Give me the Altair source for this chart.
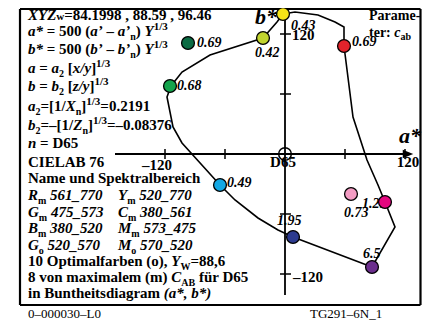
import altair as alt
import pandas as pd

# ---------------- data (CIELAB a*, b*) ----------------
sample_a = [-2, -22, 59, -97, -115, -65, 66, 100, 8, 87]
sample_b = [140, 116, 108, 111, 68, -31, -40, -48, -83, -113]
sample_lbl = ["0.43", "0.42", "0.69", "0.69", "0.68", "0.49", "0.73", "1.21", "1.95", "6.5"]
sample_col = ["#f7e417", "#c1d42f", "#e3232b", "#0b6b43", "#14a44c",
              "#12a8e4", "#f39cc3", "#e4077f", "#2c3a8f", "#6b2e8d"]

curve_a = [-2, 10, 33, 50, 59, 59, 68, 82, 93, 100, 110, 87, 8, -7, -27, -50, -65,
           -103, -112, -118, -114, -103, -75, -22, -8, -2]
curve_b = [140, 142, 139, 132, 127, 108, 37, -6, -31, -48, -73, -113, -83, -76, -64, -46, -31,
           11, 27, 57, 68, 82, 99, 116, 132, 140]

tick_vals = [-120, -60, 60, 120]

# ---------------- layout helpers ----------------
PX0, PY0 = 285, 154          # page position of the origin (D65)


def A(px):
    return px - PX0


def B(py):
    return PY0 - py


# label offsets (page px) from each circle centre: left start, baseline
lbl_dx = [8, -8, 8, 9, 7, 7, -7, -23, -16, -9]
lbl_dy = [16, 19, 0, 4, 4, 2, 23, 6, -12, -9]

BOLD_W = {' ': 250, '(': 333, ')': 333, '*': 500, ',': 250, '-': 333, '.': 250, '/': 278,
          '=': 570, '[': 333, ']': 333, '_': 500, '–': 500, '’': 333, ':': 333,
          'A': 722, 'B': 667, 'C': 722, 'D': 722, 'E': 667, 'I': 389, 'L': 667, 'N': 722,
          'O': 778, 'P': 611, 'S': 556, 'W': 1000, 'T': 667, 'G': 778,
          'a': 500, 'b': 556, 'c': 444, 'd': 556, 'e': 444, 'f': 333, 'g': 500, 'h': 556,
          'i': 278, 'k': 556, 'l': 278, 'm': 833, 'n': 556, 'o': 500, 'p': 556, 'r': 444,
          's': 389, 't': 333, 'u': 556, 'v': 500, 'w': 722, 'x': 500, 'y': 500, 'z': 444,
          'ü': 556}
ITAL_W = {' ': 250, '(': 333, ')': 333, '*': 500, ',': 250, '.': 250, '/': 278, '_': 500,
          '’': 333, 'A': 667, 'B': 667, 'C': 667, 'G': 722, 'M': 889, 'R': 667, 'X': 667,
          'Y': 611, 'Z': 611, 'a': 500, 'b': 500, 'n': 556, 'x': 500, 'y': 444, 'z': 389,
          'c': 444}

KINDS = {  # kind: (italic, size, dy)
    'B': (False, 15, 0), 'I': (True, 15, 0), 'sub': (False, 10, 4), 'sup': (False, 11, -6),
    'w': (False, 11, 0), 'b14': (False, 14, 0), 'i14': (True, 14, 0), 'sub14': (False, 10, 3),
}


def width(txt, italic, size):
    tab = ITAL_W if italic else BOLD_W
    return sum(tab.get(ch, 500) for ch in txt) * size / 1000.0


seg_rows = []


def row(x0, base, segs):
    x = x0
    for txt, kind in segs:
        it, size, dy = KINDS[kind]
        core = txt.lstrip(" ")
        lead = width(txt[:len(txt) - len(core)], it, size)
        core = core.rstrip(" ")
        if core:
            seg_rows.append(dict(a=A(x + lead), b=B(base + dy), t=core, fs=size, it=it))
        x += width(txt, it, size)


L = 28
row(L, 20, [("XYZ", 'I'), ("w", 'w'), ("=84.1998 , 88.59 , 96.46", 'B')])
row(L, 36, [("a*", 'I'), (" = 500 (", 'B'), ("a’", 'I'), (" – ", 'B'), ("a’", 'I'),
            ("n", 'sub'), (") ", 'B'), ("Y", 'I'), ("1/3", 'sup')])
row(L, 54, [("b*", 'I'), (" = 500 (", 'B'), ("b’", 'I'), (" – ", 'B'), ("b’", 'I'),
            ("n", 'sub'), (") ", 'B'), ("Y", 'I'), ("1/3", 'sup')])
row(L, 73, [("a", 'I'), (" = ", 'B'), ("a", 'I'), ("2", 'sub'), (" [", 'B'), ("x/y", 'I'),
            ("]", 'B'), ("1/3", 'sup')])
row(L, 91, [("b", 'I'), (" = ", 'B'), ("b", 'I'), ("2", 'sub'), (" [", 'B'), ("z/y", 'I'),
            ("]", 'B'), ("1/3", 'sup')])
row(L, 111, [("a", 'I'), ("2", 'sub'), ("=[1/", 'B'), ("X", 'I'), ("n", 'sub'), ("]", 'B'),
             ("1/3", 'sup'), ("=0.2191", 'B')])
row(L, 130, [("b", 'I'), ("2", 'sub'), ("=–[1/", 'B'), ("Z", 'I'), ("n", 'sub'), ("]", 'B'),
             ("1/3", 'sup'), ("=–0.08376", 'B')])
row(L, 148, [("n", 'I'), (" = D65", 'B')])
row(L, 167, [("CIELAB 76", 'B')])
row(L, 183, [("Name und Spektralbereich", 'B')])
pairs = [("R", "m", " 561_770", "Y", "m", " 520_770", 200),
         ("G", "m", " 475_573", "C", "m", " 380_561", 217),
         ("B", "m", " 380_520", "M", "m", " 573_475", 233),
         ("G", "o", " 520_570", "M", "o", " 570_520", 250)]
for c1, s1, n1, c2, s2, n2, yb in pairs:
    row(L, yb, [(c1, 'I'), (s1, 'sub'), (n1, 'I')])
    row(118, yb, [(c2, 'I'), (s2, 'sub'), (n2, 'I')])
row(L, 266, [("10 Optimalfarben (o), ", 'B'), ("Y", 'I'), ("W", 'sub'), ("=88,6", 'B')])
row(L, 282, [("8 von maximalem (m) ", 'B'), ("C", 'I'), ("AB", 'sub'), (" für D65", 'B')])
row(L, 298, [("in Buntheitsdiagram ", 'B'), ("(a*, b*)", 'I')])
# right corner note
row(369, 20, [("Parame-", 'b14')])
row(369, 37, [("ter: ", 'b14'), ("c", 'i14'), ("ab", 'sub14')])

segs = pd.DataFrame(seg_rows)

# axis labels (page px): text, centre x, baseline
axlab = pd.DataFrame(dict(
    t=["–120", "D65", "120"],
    a=[A(157), A(283), A(408)],
    b=[B(170), B(167), B(167)]))
axlab_l = pd.DataFrame(dict(t=["120", "–120"], a=[A(292), A(293)], b=[B(40), B(282)]))
bigl = pd.DataFrame(dict(t=["a*", "b*"], a=[A(399), A(255)], b=[B(143), B(24)]))
foot = pd.DataFrame(dict(t=["0–000030–L0", "TG291–6N_1"], a=[A(28), A(310)], b=[B(318), B(318)]))

# ---------------- scales ----------------
W, H = 414, 317
xs = alt.Scale(domain=[A(8), A(8 + W)], nice=False, zero=False)
ys = alt.Scale(domain=[B(8 + H), B(8)], nice=False, zero=False)


def X(f):
    return alt.X(f, type="quantitative", scale=xs, axis=None)


def Y(f):
    return alt.Y(f, type="quantitative", scale=ys, axis=None)


samples = pd.DataFrame(dict(a=sample_a, b=sample_b, lbl=sample_lbl, col=sample_col))
samples["la"] = [a + d for a, d in zip(sample_a, lbl_dx)]
samples["lb"] = [b - d for b, d in zip(sample_b, lbl_dy)]
curve = pd.DataFrame(dict(a=curve_a, b=curve_b, i=list(range(len(curve_a)))))

fl, fr, ft_, fb = A(20), A(420.5), B(9), B(305)
frame_h = pd.DataFrame(dict(a=[fl, fl], a2=[fr, fr], b=[ft_, fb]))
frame_v = pd.DataFrame(dict(a=[fl, fr], b=[ft_, ft_], b2=[fb, fb]))
haxis = pd.DataFrame(dict(a=[A(115)], a2=[A(404)], b=[0]))
vaxis = pd.DataFrame(dict(a=[0], b=[B(10)], b2=[B(295)]))
hticks = pd.DataFrame(dict(a=tick_vals, b=[-5] * 4, b2=[5] * 4))
vticks = pd.DataFrame(dict(b=tick_vals, a=[-5] * 4, a2=[6] * 4))
arrow = pd.DataFrame(dict(a=[A(408)], b=[0]))
origin = pd.DataFrame(dict(a=[0], b=[0]))

FONT = "Liberation Serif"

fh = alt.Chart(frame_h).mark_rule(color="black", strokeWidth=2.2).encode(x=X("a"), x2="a2", y=Y("b"))
fv = alt.Chart(frame_v).mark_rule(color="black", strokeWidth=2.2).encode(x=X("a"), y=Y("b"), y2="b2")
hline = alt.Chart(haxis).mark_rule(color="black", strokeWidth=2).encode(x=X("a"), x2="a2", y=Y("b"))
vline = alt.Chart(vaxis).mark_rule(color="black", strokeWidth=1.8).encode(x=X("a"), y=Y("b"), y2="b2")
ht = alt.Chart(hticks).mark_rule(color="black", strokeWidth=1.5).encode(x=X("a"), y=Y("b"), y2="b2")
vt = alt.Chart(vticks).mark_rule(color="black", strokeWidth=1.5).encode(x=X("a"), x2="a2", y=Y("b"))
arr = alt.Chart(arrow).mark_point(shape="M-1,-0.8L1,0L-1,0.8Z", filled=True, color="black",
                                  opacity=1, size=110).encode(x=X("a"), y=Y("b"))
d65 = alt.Chart(origin).mark_point(shape="circle", filled=False, stroke="black", strokeWidth=1.5,
                                   opacity=1, size=160).encode(x=X("a"), y=Y("b"))
line = alt.Chart(curve).mark_line(color="black", strokeWidth=1.6).encode(
    x=X("a"), y=Y("b"), order=alt.Order("i:Q"))
labels = alt.Chart(samples).mark_text(font=FONT, fontSize=14, fontWeight="bold", fontStyle="italic",
                                      align="left", baseline="alphabetic", color="black").encode(
    x=X("la"), y=Y("lb"), text="lbl:N")
dots = alt.Chart(samples).mark_circle(size=165, stroke="black", strokeWidth=1.3, opacity=1).encode(
    x=X("a"), y=Y("b"), fill=alt.Fill("col:N", scale=None))

seg_b = alt.Chart(segs[~segs["it"]]).mark_text(font=FONT, fontWeight="bold", align="left",
                                               baseline="alphabetic", color="black").encode(
    x=X("a"), y=Y("b"), text="t:N", size=alt.Size("fs:Q", scale=None, legend=None))
seg_i = alt.Chart(segs[segs["it"]]).mark_text(font=FONT, fontWeight="bold", fontStyle="italic",
                                              align="left", baseline="alphabetic", color="black").encode(
    x=X("a"), y=Y("b"), text="t:N", size=alt.Size("fs:Q", scale=None, legend=None))
axt = alt.Chart(axlab).mark_text(font=FONT, fontWeight="bold", fontSize=15, align="center",
                                 baseline="alphabetic", color="black").encode(
    x=X("a"), y=Y("b"), text="t:N")
axt_l = alt.Chart(axlab_l).mark_text(font=FONT, fontWeight="bold", fontSize=15, align="left",
                                     baseline="alphabetic", color="black").encode(
    x=X("a"), y=Y("b"), text="t:N")
big = alt.Chart(bigl).mark_text(font=FONT, fontWeight="bold", fontStyle="italic", fontSize=22,
                                align="left", baseline="alphabetic", color="black").encode(
    x=X("a"), y=Y("b"), text="t:N")
ftx = alt.Chart(foot).mark_text(font=FONT, fontSize=13, align="left", baseline="alphabetic",
                                color="black").encode(x=X("a"), y=Y("b"), text="t:N")

chart = alt.layer(fh, fv, hline, vline, ht, vt, arr, line, d65, labels, dots,
                  seg_b, seg_i, axt, axt_l, big, ftx).properties(
    width=W, height=H, padding=0, autosize=alt.AutoSizeParams(type="none"),
    background="white"
).configure_view(stroke=None)

chart.save("out.html", embed_options={"renderer": "svg", "actions": False})
